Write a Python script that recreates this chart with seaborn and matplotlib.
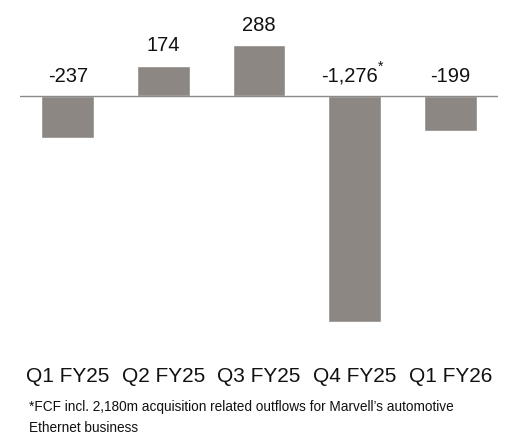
import matplotlib
matplotlib.use("Agg")
import matplotlib.pyplot as plt
import seaborn as sns
import pandas as pd

categories = ["Q1 FY25", "Q2 FY25", "Q3 FY25", "Q4 FY25", "Q1 FY26"]
values = [-237, 174, 288, -1276, -199]
labels = ["-237", "174", "288", "-1,276", "-199"]
footnote = "*FCF incl. 2,180m acquisition related outflows for Marvell\u2019s automotive\nEthernet business"

sns.set_theme(style="white")
plt.rcParams['font.family'] = ['Liberation Sans', 'DejaVu Sans']

W, H = 514, 446
fig = plt.figure(figsize=(W / 100, H / 100), dpi=100)

# axes in pixel geometry
left_px, right_px = 20, 498
top_px, bottom_px = 0, 330
ax = fig.add_axes([left_px / W, 1 - bottom_px / H, (right_px - left_px) / W, (bottom_px - top_px) / H])

df = pd.DataFrame({"cat": categories, "val": values})
sns.barplot(data=df, x="cat", y="val", color="#8c8783", saturation=1, width=0.553, ax=ax)

scale = 0.1765  # px per unit
zero_px = 96.3
ax.set_xlim(-0.5, 4.5)
ax.set_ylim(-(bottom_px - zero_px) / scale, (zero_px - top_px) / scale)
ax.axhline(0, color="#8a8a8a", lw=1.0)

for sp in ax.spines.values():
    sp.set_visible(False)
ax.set_xticks([])
ax.set_yticks([])
ax.set_xlabel("")
ax.set_ylabel("")

for i, (v, lab) in enumerate(zip(values, labels)):
    y = max(v, 0)
    if i == 3:
        ax.annotate(lab, (i, y), xytext=(16.5, 7.5), textcoords="offset points",
                    ha="right", va="bottom", fontsize=14.5, color="#111111")
        ax.annotate("*", (i, y), xytext=(17.0, 16), textcoords="offset points",
                    ha="left", va="bottom", fontsize=10, color="#111111")
    else:
        ax.annotate(lab, (i, y), xytext=(0, 7.5), textcoords="offset points",
                    ha="center", va="bottom", fontsize=14.5, color="#111111")

# category labels
for i, c in enumerate(categories):
    xf = (left_px + (i + 0.5) * (right_px - left_px) / 5) / W
    fig.text(xf, 1 - 376 / H, c, ha="center", va="center", fontsize=15, color="#111111")

fig.text(29 / W, 1 - 400 / H, footnote, ha="left", va="top", fontsize=9.8,
         color="#111111", linespacing=1.65)

fig.savefig("out.png", dpi=100, facecolor="white")
